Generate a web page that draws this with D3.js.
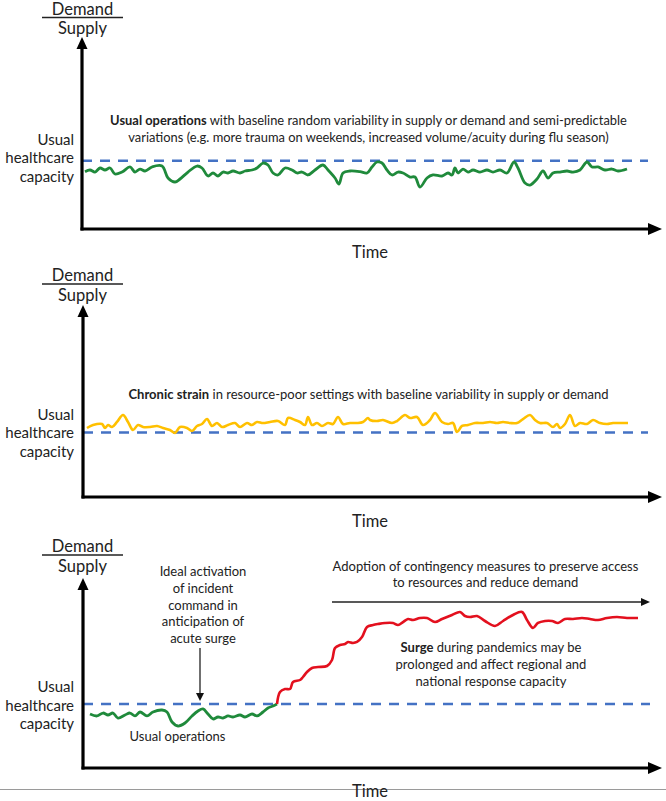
<!DOCTYPE html>
<html><head><meta charset="utf-8">
<script src="https://cdn.jsdelivr.net/npm/d3@7"></script>
<style>
html,body{margin:0;padding:0;background:#fff;}
svg{display:block;}
text{font-family:Lato,"Open Sans",sans-serif;fill:#222;}
</style></head>
<body>
<svg id="chart" width="666" height="801"></svg>
<script>
// ---- DATA (time in days, value in % of usual healthcare capacity; capacity = 100) ----
const capacity = 100;
const usualOps = [[1.5,84],[4,86.4],[6.5,83.4],[9,89.3],[11.5,86.4],[14,89.3],[16.5,80.5],[20,83.4],[24,90.8],[26.5,83.4],[29,87.8],[31.5,84.9],[35,90.8],[40,92.2],[43,74.7],[46.5,68.8],[49,73.2],[53,83.4],[57.5,92.2],[60,89.3],[63,77.6],[65.5,82],[68,77.6],[70.5,83.4],[73,82],[75.5,84.9],[79,82],[81.5,84.9],[85,86.4],[87.5,89.3],[90.5,96.6],[93,93.7],[95.5,82],[98,79.1],[101.5,89.3],[105,86.4],[107.5,82],[110,83.4],[113,79.1],[116.5,86.4],[120.5,93.7],[123,86.4],[126.5,74.7],[128.5,65.9],[130.5,82],[134,84.9],[139,84],[142.5,82],[145,90.8],[147.5,98.1],[150,96.6],[152.5,86.4],[155,79.1],[158,83.4],[160.5,82],[164,76.1],[166.5,76.1],[169,61.5],[172.5,74.7],[175.5,79.1],[180,77.6],[183,82],[185,79.1],[186.5,89.3],[188,82],[190.5,87.8],[193,83.4],[195.5,86.4],[199,83.4],[202.5,86.4],[205.5,83.4],[209,86.4],[212.5,82],[216,98.1],[218,89.3],[221.5,67.3],[224,64.4],[227.5,73.2],[230.5,84.9],[233,74.7],[235.5,82],[239,83.4],[242.5,84.9],[245.5,83.4],[249,86.4],[252.5,98.1],[255,90.8],[258,90.8],[261.5,86.4],[265,87.8],[268,84.9],[272.5,87.8]];
const chronicStrain = [[2.5,107],[5.5,111.6],[10,113.2],[11.5,107],[13,111.6],[15,108.5],[17.5,116.3],[20.5,127.1],[23,116.3],[25.5,103.9],[28,111.6],[30.5,108.5],[34,108.5],[37.5,110.1],[40.5,107],[44,103.9],[46.5,99.2],[49,108.5],[52.5,107],[55,102.3],[57.5,110.1],[60,113.2],[62.5,120.9],[65,110.1],[67.5,114.7],[70,108.5],[73,111.6],[76.5,114.7],[79,108.5],[82.5,114.7],[85,111.6],[87.5,116.3],[90.5,114.7],[94,116.3],[98,117.8],[101.5,111.6],[103,122.5],[106.5,119.4],[109,116.3],[111.5,111.6],[113,124],[115,111.6],[117.5,114.7],[120,110.1],[123,114.7],[125.5,113.2],[128,124],[130.5,113.2],[134,114.7],[137.5,114.7],[140.5,116.3],[143,122.5],[144,119.4],[147.5,117.8],[150.5,119.4],[155,114.7],[157.5,117.8],[161.5,127.1],[164,122.5],[167.5,124],[170.5,111.6],[174,119.4],[176.5,130.2],[180,116.3],[183,113.2],[185.5,114.7],[187.5,100.8],[190,110.1],[193,111.6],[196.5,114.7],[200.5,114.7],[204,116.3],[207.5,114.7],[210.5,116.3],[214,114.7],[217.5,114.7],[220.5,120.9],[224,127.1],[226.5,119.4],[229,114.7],[232.5,114.7],[235.5,108.5],[237.5,113.2],[239,107],[241.5,113.2],[244,127.1],[246.5,110.1],[249,114.7],[252.5,113.2],[255.5,119.4],[259,114.7],[262.5,113.2],[265.5,114.7],[269,114.7],[273,114.7]];
const surgeBaseline = [[4,84.4],[7.5,81.3],[10.5,85.9],[13,82.8],[15.5,85.9],[18,78.1],[21.5,82.8],[24,85.9],[26.5,81.3],[29,87.5],[32.5,81.3],[35.5,87.5],[40,90.6],[42.5,87.5],[45,71.9],[48,65.6],[51.5,70.3],[55,81.3],[58,89.1],[60.5,92.2],[63,84.4],[65.5,76.6],[68,79.7],[70.5,78.1],[73,81.3],[75.5,79.7],[79,82.8],[81.5,79.7],[85,84.4],[87.5,81.3],[90.5,87.5],[93,93.8],[95.5,96.9],[97.5,100]];
const surgeRise = [[97.5,100],[99,118.8],[101.5,123.4],[104,123.4],[105.5,134.4],[109,137.5],[110.5,142.2],[112.5,150],[115,156.3],[118,157.8],[122.5,159.4],[125,168.8],[126.5,187.5],[129,192.2],[131.5,193.8],[133,196.9],[135.5,195.3],[137.5,196.9],[140,204.7],[142.5,220.3],[145.5,223.4],[148,225],[151.5,226.6],[155.5,226.6],[158,223.4],[160.5,228.1],[163,232.8],[165.5,231.3],[169,234.4],[172.5,234.4],[176.5,228.1],[180,232.8],[185,239.1],[189,243.8],[191.5,237.5],[194,235.9],[197.5,237.5],[201.5,229.7],[206.5,221.9],[210.5,229.7],[215.5,239.1],[220,243.8],[222.5,231.3],[225.5,218.8],[228,226.6],[231.5,229.7],[235,229.7],[238,226.6],[241.5,232.8],[245.5,232.8],[250,234.4],[254,232.8],[258,231.3],[262.5,234.4],[267.5,235.9],[272.5,234.4],[278,234.4]];
const yLabelLines = ["Usual","healthcare","capacity"];
const p1Text = [[{t:"Usual operations",b:true},{t:" with baseline random variability in supply or demand and semi-predictable"}],[{t:"variations (e.g. more trauma on weekends, increased volume/acuity during flu season)"}]];
const p2Text = [[{t:"Chronic strain",b:true},{t:" in resource-poor settings with baseline variability in supply or demand"}]];
const p3Activation = ["Ideal activation","of incident","command in","anticipation of","acute surge"];
const p3Contingency = ["Adoption of contingency measures to preserve access","to resources and reduce demand"];
const p3Surge = [[{t:"Surge",b:true},{t:" during pandemics may be"}],[{t:"prolonged and affect regional and"}],[{t:"national response capacity"}]];
const activationTime = 59;   // days
const contingencyStart = 125; // days
const contingencyEnd = 284;

// ---- LAYOUT ----
const svg = d3.select("#chart");
const x = d3.scaleLinear().domain([0, 290]).range([82, 662]);
const panels = [
  {axisX:82, axisY:229, capY:160.7, top:37, demY:14.5, labY:[145,163,182], timeY:258, dashEnd:648},
  {axisX:83, axisY:497, capY:432.5, top:305, demY:281, labY:[420,438,457], timeY:527, dashEnd:648},
  {axisX:83, axisY:768, capY:704, top:578, demY:552, labY:[692,711,729], timeY:797, dashEnd:650}
];
panels.forEach(p => { p.y = d3.scaleLinear().domain([0, capacity]).range([p.axisY, p.capY]); });

const colors = {green:"#1f8a3b", yellow:"#ffc000", red:"#e3101e", blue:"#4472c4"};

function richText(g, lines, cx, y0, dy, size) {
  lines.forEach((segs, i) => {
    const t = g.append("text").attr("x", cx).attr("y", y0 + i*dy).attr("text-anchor","middle").attr("font-size", size);
    segs.forEach(s => t.append("tspan").text(s.t).attr("font-weight", s.b ? "bold" : "normal"));
  });
}

// bottom gray rule
svg.append("line").attr("x1",0).attr("x2",666).attr("y1",789.5).attr("y2",789.5).attr("stroke","#9a9a9a").attr("stroke-width",1.2);

panels.forEach((p, i) => {
  const g = svg.append("g");
  g.append("line").attr("x1", p.axisX).attr("x2", p.dashEnd).attr("y1", p.y(capacity)).attr("y2", p.y(capacity))
    .attr("stroke", colors.blue).attr("stroke-width", 2.4).attr("stroke-dasharray","10,8");
  g.append("line").attr("x1", p.axisX).attr("x2", p.axisX).attr("y1", p.axisY+1.5).attr("y2", p.top+8)
    .attr("stroke","#000").attr("stroke-width",3.2);
  g.append("path").attr("d", `M${p.axisX},${p.top} L${p.axisX-5.5},${p.top+12} L${p.axisX+5.5},${p.top+12} Z`).attr("fill","#000");
  g.append("line").attr("x1", p.axisX-1.5).attr("x2", x.range()[1]-8).attr("y1", p.axisY).attr("y2", p.axisY)
    .attr("stroke","#000").attr("stroke-width",3.2);
  const xr = x.range()[1];
  g.append("path").attr("d", `M${xr},${p.axisY} L${xr-14},${p.axisY-6} L${xr-14},${p.axisY+6} Z`).attr("fill","#000");
  g.append("text").attr("x", 82.5).attr("y", p.demY).attr("text-anchor","middle").attr("font-size",16.5).text("Demand");
  g.append("line").attr("x1",42).attr("x2",123).attr("y1",p.demY+3).attr("y2",p.demY+3).attr("stroke","#222").attr("stroke-width",1.4);
  g.append("text").attr("x", 82.5).attr("y", p.demY+19.5).attr("text-anchor","middle").attr("font-size",16.5).text("Supply");
  yLabelLines.forEach((l, k) => g.append("text").attr("x", 74).attr("y", p.labY[k]).attr("text-anchor","end").attr("font-size",15).text(l));
  g.append("text").attr("x", 370).attr("y", p.timeY).attr("text-anchor","middle").attr("font-size",16.5).text("Time");
});

const line = (p) => d3.line().x(d => x(d[0])).y(d => p.y(d[1])).curve(d3.curveCatmullRom.alpha(0.5));

{
  const p = panels[0];
  svg.append("path").datum(usualOps).attr("d", line(p)).attr("fill","none").attr("stroke",colors.green).attr("stroke-width",2.8).attr("stroke-linejoin","round");
  richText(svg, p1Text, 368.5, 125, 17, 12.9);
}
{
  const p = panels[1];
  svg.append("path").datum(chronicStrain).attr("d", line(p)).attr("fill","none").attr("stroke",colors.yellow).attr("stroke-width",2.6).attr("stroke-linejoin","round");
  richText(svg, p2Text, 368.5, 399, 17, 13);
}
{
  const p = panels[2];
  svg.append("path").datum(surgeBaseline).attr("d", line(p)).attr("fill","none").attr("stroke",colors.green).attr("stroke-width",2.8).attr("stroke-linejoin","round");
  svg.append("path").datum(surgeRise).attr("d", line(p)).attr("fill","none").attr("stroke",colors.red).attr("stroke-width",2.6).attr("stroke-linejoin","round");
  svg.append("text").attr("x",177.5).attr("y",741).attr("text-anchor","middle").attr("font-size",13).text("Usual operations");
  p3Activation.forEach((l,k) => svg.append("text").attr("x",203).attr("y",576+k*16.8).attr("text-anchor","middle").attr("font-size",13).text(l));
  const ax = x(activationTime);
  svg.append("line").attr("x1",ax).attr("x2",ax).attr("y1",648).attr("y2",694).attr("stroke","#222").attr("stroke-width",1.3);
  svg.append("path").attr("d",`M${ax},${p.y(capacity)-3} L${ax-4},${p.y(capacity)-11} L${ax+4},${p.y(capacity)-11} Z`).attr("fill","#111");
  p3Contingency.forEach((l,k) => svg.append("text").attr("x",485.5).attr("y",571+k*15.5).attr("text-anchor","middle").attr("font-size",13).text(l));
  const cy = 602, c0 = x(contingencyStart), c1 = x(contingencyEnd);
  svg.append("line").attr("x1",c0).attr("x2",c1-6).attr("y1",cy).attr("y2",cy).attr("stroke","#222").attr("stroke-width",1.3);
  svg.append("path").attr("d",`M${c1},${cy} L${c1-9},${cy-4} L${c1-9},${cy+4} Z`).attr("fill","#111");
  richText(svg, p3Surge, 491, 652, 17, 13);
}
</script>
</body></html>
